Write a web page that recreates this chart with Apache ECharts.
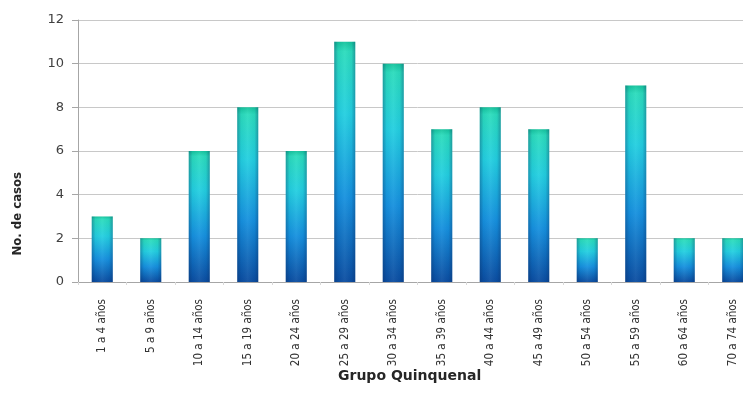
<!DOCTYPE html>
<html>
<head>
<meta charset="utf-8">
<script src="https://cdn.jsdelivr.net/npm/echarts@6/dist/echarts.min.js"></script>
<style>
  html, body { margin: 0; padding: 0; background: #fff; overflow: hidden; }
  #chart { width: 757px; height: 398px; }
</style>
</head>
<body>
<div id="chart"></div>
<script>
// Age groups (five-year bands) and number of cases per group
const categories = ['1 a 4 años', '5 a 9 años', '10 a 14 años', '15 a 19 años', '20 a 24 años',
  '25 a 29 años', '30 a 34 años', '35 a 39 años', '40 a 44 años', '45 a 49 años',
  '50 a 54 años', '55 a 59 años', '60 a 64 años', '70 a 74 años'];
const casos = [3, 2, 6, 8, 6, 11, 10, 7, 8, 7, 2, 9, 2, 2];
const yTicks = { min: 0, max: 12, interval: 2 };

const chart = echarts.init(document.getElementById('chart'), null, { renderer: 'canvas' });

// vertical fill: teal top, cyan middle, deep blue bottom
const bodyFill = new echarts.graphic.LinearGradient(0, 0, 0, 1, [
  { offset: 0, color: '#14c39c' },
  { offset: 0.04, color: '#2adcbc' },
  { offset: 0.3, color: '#22cfe0' },
  { offset: 0.65, color: '#1590de' },
  { offset: 1, color: '#0a4ca0' }
]);
// horizontal shading for a rounded look
const edgeShade = new echarts.graphic.LinearGradient(0, 0, 1, 0, [
  { offset: 0, color: 'rgba(10,40,90,0.35)' },
  { offset: 0.18, color: 'rgba(10,40,90,0.05)' },
  { offset: 0.5, color: 'rgba(255,255,255,0.06)' },
  { offset: 0.82, color: 'rgba(10,40,90,0.05)' },
  { offset: 1, color: 'rgba(10,40,90,0.35)' }
]);

chart.setOption({
  animation: false,
  grid: { left: 78, right: 0, top: 20, bottom: 116 },
  xAxis: {
    type: 'category',
    data: categories,
    axisLine: { lineStyle: { color: '#a6a6a6' } },
    axisTick: { show: true, length: 3, lineStyle: { color: '#d9d9d9' } },
    axisLabel: {
      rotate: 90,
      margin: 17,
      fontSize: 11.5,
      fontFamily: '"DejaVu Sans Condensed", sans-serif',
      color: '#333333'
    }
  },
  yAxis: {
    type: 'value',
    min: yTicks.min,
    max: yTicks.max,
    interval: yTicks.interval,
    axisLine: { show: true, lineStyle: { color: '#a6a6a6' } },
    axisTick: { show: true, length: 6, lineStyle: { color: '#a6a6a6' } },
    axisLabel: {
      margin: 14,
      fontSize: 13,
      fontFamily: '"DejaVu Sans", sans-serif',
      color: '#404040'
    },
    splitLine: { lineStyle: { color: '#c8c8c8', width: 1 } }
  },
  series: [
    {
      type: 'bar',
      data: casos,
      barWidth: 21,
      itemStyle: { color: bodyFill }
    },
    {
      type: 'bar',
      data: casos,
      barWidth: 21,
      barGap: '-100%',
      silent: true,
      itemStyle: { color: edgeShade }
    }
  ],
  graphic: [
    {
      type: 'text',
      left: 11,
      top: 172,
      style: {
        text: 'No. de casos',
        fontSize: 13,
        fontWeight: 'bold',
        fontFamily: '"DejaVu Sans Condensed", sans-serif',
        fill: '#262626'
      },
      rotation: Math.PI / 2
    },
    {
      type: 'text',
      left: 338,
      top: 369,
      style: {
        text: 'Grupo Quinquenal',
        fontSize: 14,
        fontWeight: 'bold',
        fontFamily: '"DejaVu Sans", sans-serif',
        fill: '#262626'
      }
    }
  ]
});
</script>
</body>
</html>
